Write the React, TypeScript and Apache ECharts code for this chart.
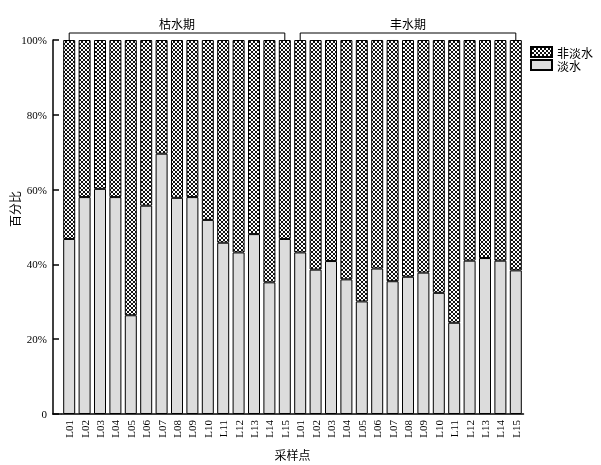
import React, { useEffect, useRef } from "react";
import * as echarts from "echarts";

const sites = ["L01","L02","L03","L04","L05","L06","L07","L08","L09","L10","L11","L12","L13","L14","L15"];
const periods = ["枯水期", "丰水期"];
// 淡水 percentage per site
const dryFresh = [46.8, 58.0, 60.2, 58.0, 26.4, 55.7, 69.6, 57.8, 58.0, 51.9, 45.8, 43.2, 48.1, 35.2, 46.8];
const wetFresh = [43.2, 38.6, 40.9, 36.0, 30.1, 38.9, 35.5, 36.7, 37.8, 32.4, 24.4, 41.0, 41.7, 41.0, 38.4];
// 非淡水 percentage per site
const dryNonFresh = [53.2, 42.0, 39.8, 42.0, 73.6, 44.3, 30.4, 42.2, 42.0, 48.1, 54.2, 56.8, 51.9, 64.8, 53.2];
const wetNonFresh = [56.8, 61.4, 59.1, 64.0, 69.9, 61.1, 64.5, 63.3, 62.2, 67.6, 75.6, 59.0, 58.3, 59.0, 61.6];
const yTicks = [0, 20, 40, 60, 80, 100];

const CJK = "'Noto Sans CJK SC', sans-serif";
const SERIF = "'Liberation Serif', 'DejaVu Serif', serif";

function makePattern(): HTMLCanvasElement {
  const c = document.createElement("canvas");
  c.width = 4;
  c.height = 4;
  const ctx = c.getContext("2d")!;
  ctx.fillStyle = "#ffffff";
  ctx.fillRect(0, 0, 4, 4);
  ctx.fillStyle = "#111111";
  const pts = [[0, 0], [1, 1], [2, 2], [3, 3], [3, 0], [2, 1], [1, 2], [0, 3]];
  pts.forEach(([x, y]) => ctx.fillRect(x, y, 1, 1));
  return c;
}

export default function App() {
  const ref = useRef<HTMLDivElement>(null);
  useEffect(() => {
    if (!ref.current) return;
    const chart = echarts.init(ref.current, undefined, { renderer: "svg" });
    const categories = [
      ...sites.map((s) => periods[0] + "|" + s),
      ...sites.map((s) => periods[1] + "|" + s),
    ];
    const fresh = [...dryFresh, ...wetFresh];
    const nonFresh = [...dryNonFresh, ...wetNonFresh];
    const pattern = makePattern();
    chart.setOption({
      animation: false,
      grid: { left: 61.5, right: 77.5, top: 40, bottom: 50, containLabel: false },
      legend: {
        data: ["非淡水", "淡水"],
        orient: "vertical",
        left: 530,
        top: 46,
        padding: 0,
        icon: "rect",
        itemWidth: 21,
        itemHeight: 10,
        itemGap: 1,
        textStyle: { fontFamily: CJK, fontSize: 12, lineHeight: 12, color: "#000" },
      },
      xAxis: {
        type: "category",
        data: categories,
        name: "采样点",
        nameLocation: "middle",
        nameGap: 34,
        nameTextStyle: { fontFamily: CJK, fontSize: 12, color: "#000" },
        axisLine: { show: true, lineStyle: { color: "#000", width: 1.5 } },
        axisTick: { show: false },
        axisLabel: {
          interval: 0,
          rotate: 90,
          margin: 6,
          fontFamily: SERIF,
          fontSize: 11,
          color: "#000",
          formatter: (v: string) => v.split("|")[1],
        },
      },
      yAxis: {
        type: "value",
        min: 0,
        max: 100,
        interval: 20,
        offset: 8.5,
        axisLine: { show: true, lineStyle: { color: "#000", width: 1.5 } },
        axisTick: { show: true, inside: true, length: 6, lineStyle: { color: "#000", width: 1.5 } },
        splitLine: { show: false },
        axisLabel: {
          margin: 6,
          fontFamily: SERIF,
          fontSize: 11,
          color: "#000",
          formatter: (v: number) => (v === 0 ? "0" : v + "%"),
          customValues: yTicks,
        },
      },
      series: [
        {
          name: "淡水",
          type: "bar",
          stack: "total",
          barWidth: 12,
          data: fresh,
          itemStyle: { color: "#dcdcdc", borderColor: "#000", borderWidth: 1 },
        },
        {
          name: "非淡水",
          type: "bar",
          stack: "total",
          barWidth: 12,
          data: nonFresh,
          itemStyle: {
            color: { image: pattern, repeat: "repeat" },
            borderColor: "#000",
            borderWidth: 1,
          },
        },
      ],
    });

    const yTop = chart.convertToPixel({ yAxisIndex: 0 }, 100) as number;
    const y0 = chart.convertToPixel({ yAxisIndex: 0 }, 0) as number;
    const xLeft = chart.convertToPixel({ xAxisIndex: 0 }, categories[0]) as number;
    const xRight = chart.convertToPixel({ xAxisIndex: 0 }, categories[categories.length - 1]) as number;
    const band = (xRight - xLeft) / (categories.length - 1);
    const gridLeft = xLeft - band / 2;
    const graphics: any[] = [];
    periods.forEach((p, gi) => {
      const a = chart.convertToPixel({ xAxisIndex: 0 }, categories[gi * sites.length]) as number;
      const b = chart.convertToPixel({ xAxisIndex: 0 }, categories[gi * sites.length + sites.length - 1]) as number;
      const yb = yTop - 7;
      graphics.push({
        type: "polyline",
        shape: { points: [[a, yTop], [a, yb], [b, yb], [b, yTop]] },
        style: { stroke: "#000", lineWidth: 1, fill: null },
        silent: true,
      });
      graphics.push({
        type: "text",
        x: (a + b) / 2,
        y: yb - 4,
        style: { text: p, fontFamily: CJK, fontSize: 12, fill: "#000", align: "center", verticalAlign: "bottom" },
        silent: true,
      });
    });
    graphics.push({
      type: "line",
      shape: { x1: gridLeft - 9.25, y1: y0, x2: gridLeft, y2: y0 },
      style: { stroke: "#000", lineWidth: 1.5 },
      silent: true,
    });
    graphics.push({
      type: "text",
      x: 14,
      y: (yTop + y0) / 2 - 18,
      rotation: Math.PI / 2,
      style: { text: "百分比", fontFamily: CJK, fontSize: 12, fill: "#000", align: "center", verticalAlign: "middle" },
      silent: true,
    });
    chart.setOption({ graphic: graphics });
    return () => chart.dispose();
  }, []);
  return <div ref={ref} style={{ position: "fixed", left: 0, top: 0, width: 601, height: 465 }} />;
}
